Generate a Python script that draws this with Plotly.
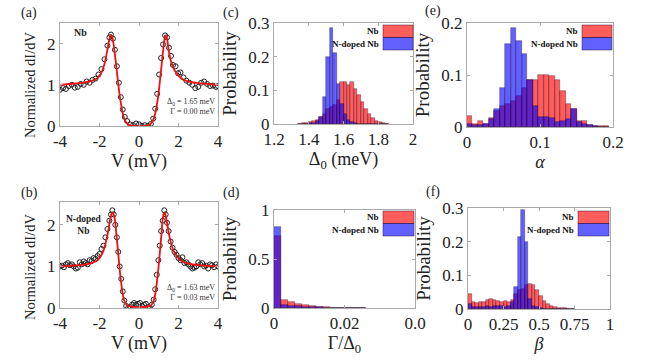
import plotly.graph_objects as go

W, H = 646, 361

# ---- (a) Nb tunnelling spectrum ----
v_nb = [-4.0, -3.85, -3.7, -3.55, -3.4, -3.25, -3.1, -2.95, -2.8, -2.65, -2.5, -2.35,
        -2.2, -2.05, -1.9, -1.75, -1.6, -1.5, -1.42, -1.32, -1.22, -1.12, -1.02, -0.92,
        -0.82, -0.72, -0.6, -0.45, -0.3, -0.15, 0.0, 0.15, 0.3, 0.45, 0.6, 0.72, 0.82,
        0.92, 1.02, 1.12, 1.22, 1.32, 1.42, 1.52, 1.62, 1.72, 1.85, 1.98, 2.1, 2.25,
        2.4, 2.55, 2.7, 2.85, 3.0, 3.15, 3.3, 3.45, 3.6, 3.75, 3.9, 4.0]
didv_nb = [0.88, 0.92, 0.90, 0.97, 1.00, 0.93, 0.95, 1.02, 1.00, 1.08, 1.05, 1.12,
           1.15, 1.25, 1.38, 1.62, 1.95, 2.15, 2.22, 2.12, 1.85, 1.45, 1.05, 0.70,
           0.40, 0.22, 0.12, 0.04, 0.02, 0.06, 0.04, 0.00, 0.02, 0.00, 0.05, 0.18, 0.42,
           0.78, 1.25, 1.65, 1.98, 2.20, 2.15, 1.90, 1.70, 1.48, 1.45, 1.28, 1.30, 1.18,
           1.10, 1.05, 1.00, 0.92, 0.95, 1.05, 1.08, 1.02, 0.97, 0.98, 0.95, 0.97]
vfit_nb = [-4.0, -3.5, -3.0, -2.6, -2.3, -2.1, -1.9, -1.75, -1.6, -1.5, -1.42, -1.35,
           -1.25, -1.15, -1.05, -0.95, -0.85, -0.75, -0.6, -0.45, -0.3, 0.0,
           0.3, 0.45, 0.6, 0.75, 0.85, 0.95, 1.05, 1.15, 1.25, 1.33, 1.4, 1.5, 1.6,
           1.75, 1.9, 2.1, 2.3, 2.6, 3.0, 3.5, 4.0]
fit_nb = [1.00, 1.02, 1.04, 1.07, 1.11, 1.17, 1.30, 1.50, 1.85, 2.10, 2.22, 2.15,
          1.85, 1.45, 1.02, 0.65, 0.37, 0.18, 0.06, 0.015, 0.0, 0.0,
          0.0, 0.015, 0.06, 0.18, 0.37, 0.65, 1.05, 1.50, 1.95, 2.20, 2.15, 1.85, 1.60,
          1.40, 1.28, 1.17, 1.11, 1.07, 1.04, 1.02, 1.00]

# ---- (b) N-doped Nb tunnelling spectrum ----
v_nd = [-4.0, -3.9, -3.8, -3.7, -3.6, -3.5, -3.4, -3.3, -3.2, -3.1, -3.0, -2.9, -2.8,
        -2.7, -2.6, -2.5, -2.4, -2.3, -2.2, -2.1, -2.0, -1.9, -1.8, -1.7, -1.6, -1.5,
        -1.42, -1.35, -1.28, -1.2, -1.12, -1.05, -0.98, -0.9, -0.82, -0.74, -0.65,
        -0.55, -0.45, -0.35, -0.25, -0.15, -0.05, 0.05, 0.15, 0.25, 0.35, 0.45, 0.55,
        0.65, 0.74, 0.82, 0.9, 0.98, 1.05, 1.12, 1.2, 1.28, 1.35, 1.42, 1.5, 1.6, 1.7,
        1.8, 1.9, 2.0, 2.1, 2.2, 2.3, 2.4, 2.5, 2.6, 2.7, 2.8, 2.9, 3.0, 3.1, 3.2, 3.3,
        3.4, 3.5, 3.6, 3.7, 3.8, 3.9, 4.0]
didv_nd = [1.00, 1.02, 0.98, 1.05, 1.08, 1.03, 1.05, 1.00, 0.95, 0.97, 1.10, 1.05, 1.12,
           1.08, 1.05, 1.15, 1.13, 1.20, 1.18, 1.25, 1.30, 1.42, 1.50, 1.70, 1.90, 2.10,
           2.25, 2.35, 2.25, 2.00, 1.70, 1.35, 1.00, 0.70, 0.40, 0.18, 0.05,
           0.00, 0.02, 0.08, 0.12, 0.08, 0.10, 0.12, 0.05, 0.08, 0.10, 0.02, 0.00,
           0.08, 0.20, 0.45, 0.80, 1.15, 1.50, 1.85, 2.10, 2.35, 2.25, 2.05, 1.85, 1.60, 1.45,
           1.35, 1.28, 1.20, 1.15, 1.22, 1.08, 1.10, 1.05, 1.00, 0.95, 0.97, 1.00, 1.10, 1.05,
           1.08, 1.00, 1.02, 0.95, 1.05, 1.03, 0.98, 1.05, 1.00]
vfit_nd = [-4.0, -3.0, -2.5, -2.2, -2.0, -1.8, -1.6, -1.45, -1.35, -1.25, -1.15, -1.05,
           -0.95, -0.85, -0.75, -0.6, -0.4, 0.0, 0.4, 0.6, 0.75, 0.85, 0.95, 1.05,
           1.15, 1.22, 1.3, 1.4, 1.55, 1.75, 2.0, 2.2, 2.5, 3.0, 4.0]
fit_nd = [1.00, 1.03, 1.07, 1.12, 1.20, 1.38, 1.75, 2.15, 2.30, 2.20, 1.80, 1.30,
          0.80, 0.42, 0.18, 0.06, 0.03, 0.03, 0.03, 0.06, 0.18, 0.42, 0.80, 1.30,
          1.85, 2.20, 2.30, 2.10, 1.70, 1.38, 1.20, 1.12, 1.07, 1.03, 1.00]

# ---- (c) gap histogram ----
gap_c = [1.35, 1.37, 1.39, 1.41, 1.43, 1.45, 1.47, 1.49, 1.51, 1.53, 1.55, 1.57, 1.59,
         1.61, 1.63, 1.65, 1.67, 1.69, 1.71, 1.73, 1.75, 1.77, 1.79, 1.81, 1.83, 1.85]
gap_nb = [0.001, 0.002, 0.003, 0.005, 0.008, 0.012, 0.02, 0.03, 0.045, 0.05, 0.055, 0.07,
          0.125, 0.125, 0.115, 0.125, 0.105, 0.085, 0.065, 0.045, 0.03, 0.018, 0.01,
          0.006, 0.003, 0.001]
gap_nd = [0.0, 0.0, 0.0, 0.002, 0.004, 0.008, 0.02, 0.08, 0.20, 0.285, 0.21, 0.12,
          0.06, 0.03, 0.012, 0.005, 0.002, 0.0, 0.0, 0.0, 0.0, 0.0, 0.0, 0.0, 0.0, 0.0]

# ---- (d) Gamma/Delta histogram ----
gam_c = [0.001, 0.003, 0.005, 0.007, 0.009, 0.011, 0.013, 0.015, 0.017, 0.019, 0.021,
         0.023, 0.025]
gam_nb = [0.73, 0.08, 0.065, 0.045, 0.03, 0.02, 0.012, 0.008, 0.005, 0.004, 0.003,
          0.002, 0.001]
gam_nd = [0.83, 0.03, 0.025, 0.02, 0.015, 0.01, 0.008, 0.005, 0.004, 0.003, 0.003,
          0.002, 0.002]

# ---- (e) alpha histogram ----
alp_c = [0.00375, 0.01125, 0.01875, 0.02625, 0.03375, 0.04125, 0.04875, 0.05625,
         0.06375, 0.07125, 0.07875, 0.08625, 0.09375, 0.10125, 0.10875, 0.11625,
         0.12375, 0.13125, 0.13875, 0.14625, 0.15375, 0.16125, 0.16875, 0.17625,
         0.18375, 0.19125]
alp_nb = [0.022, 0.005, 0.011, 0.006, 0.018, 0.03, 0.04, 0.045, 0.05, 0.06, 0.075,
          0.09, 0.09, 0.10, 0.10, 0.098, 0.09, 0.07, 0.045, 0.035, 0.012, 0.012, 0.004,
          0.002, 0.001, 0.001]
alp_nd = [0.005, 0.003, 0.004, 0.005, 0.015, 0.035, 0.075, 0.16, 0.19, 0.165, 0.14,
          0.09, 0.04, 0.02, 0.02, 0.018, 0.01, 0.012, 0.015, 0.035, 0.01, 0.005, 0.003,
          0.001, 0.0, 0.0]

# ---- (f) beta histogram ----
bet_c = [0.0125, 0.0375, 0.0625, 0.0875, 0.1125, 0.1375, 0.1625, 0.1875, 0.2125,
         0.2375, 0.2625, 0.2875, 0.3125, 0.3375, 0.3625, 0.3875, 0.4125, 0.4375,
         0.4625, 0.4875, 0.5125, 0.5375, 0.5625, 0.5875, 0.6125, 0.6375, 0.6625,
         0.6875, 0.7125, 0.7375]
bet_nb = [0.045, 0.02, 0.018, 0.02, 0.022, 0.028, 0.03, 0.028, 0.025, 0.022, 0.025,
          0.022, 0.028, 0.045, 0.055, 0.06, 0.07, 0.075, 0.07, 0.055, 0.04, 0.025,
          0.015, 0.01, 0.007, 0.004, 0.002, 0.002, 0.001, 0.001]
bet_nd = [0.015, 0.005, 0.005, 0.005, 0.006, 0.008, 0.005, 0.01, 0.008, 0.008, 0.005,
          0.01, 0.02, 0.065, 0.215, 0.295, 0.2, 0.03, 0.01, 0.005, 0.003, 0.0, 0.0,
          0.0, 0.0, 0.0, 0.0, 0.0, 0.0, 0.0]

RED = 'rgba(255,0,0,0.64)'
BLUE = 'rgba(0,0,255,0.62)'
EDGE = 'rgba(40,0,40,0.55)'
FONT = '"Liberation Serif", "Times New Roman", Times, serif'


def px(x):
    return x / W


def py(y):
    return 1 - y / H


fig = go.Figure()

# spectra
for v, g, vf, f, n in [(v_nb, didv_nb, vfit_nb, fit_nb, ''),
                       (v_nd, didv_nd, vfit_nd, fit_nd, '2')]:
    fig.add_trace(go.Scatter(x=v, y=g, mode='markers', xaxis='x' + n, yaxis='y' + n,
                             marker=dict(symbol='circle-open', size=5, color='#222',
                                         line=dict(width=1, color='#222'))))
    fig.add_trace(go.Scatter(x=vf, y=f, mode='lines', xaxis='x' + n, yaxis='y' + n,
                             line=dict(color='#ee1111', width=1.8, shape='spline')))

hists = [(gap_c, gap_nb, gap_nd, 0.02, '3'),
         (gam_c, gam_nb, gam_nd, 0.002, '4'),
         (alp_c, alp_nb, alp_nd, 0.0075, '5'),
         (bet_c, bet_nb, bet_nd, 0.025, '6')]
for c, a, b, w, n in hists:
    fig.add_trace(go.Bar(x=c, y=a, width=w, xaxis='x' + n, yaxis='y' + n,
                         marker=dict(color=RED, line=dict(color=EDGE, width=0.6))))
    fig.add_trace(go.Bar(x=c, y=b, width=w, xaxis='x' + n, yaxis='y' + n,
                         marker=dict(color=BLUE, line=dict(color=EDGE, width=0.6))))

ax = dict(showline=True, mirror='ticks', linecolor='#aaaaaa', linewidth=1,
          ticks='inside', ticklen=3, tickcolor='#aaaaaa', showgrid=False,
          zeroline=False, automargin=False,
          tickfont=dict(family=FONT, size=17, color='#222'))

# panel boxes in pixels: x0, x1, y0(top), y1(bottom)
boxes = {'': (60, 218, 23, 126), '2': (60, 218, 202, 308),
         '3': (274, 413, 23, 124), '4': (274, 415, 210, 308),
         '5': (467, 613, 23, 127), '6': (468, 610, 208, 309)}

xset = {
    '': dict(range=[-4, 4], tickvals=[-4, -2, 0, 2, 4], ticktext=['-4', '-2', '0', '2', '4'],
             title='V (mV)'),
    '2': dict(range=[-4, 4], tickvals=[-4, -2, 0, 2, 4], ticktext=['-4', '-2', '0', '2', '4'],
              title='V (mV)'),
    '3': dict(range=[1.2, 2], tickvals=[1.2, 1.4, 1.6, 1.8, 2], ticktext=['1.2', '1.4', '1.6', '1.8', '2'],
              title='Δ<sub>0</sub> (meV)'),
    '4': dict(range=[0, 0.04], tickvals=[0, 0.02, 0.04], ticktext=['0', '0.02', '0.0'],
              title='Γ/Δ<sub>0</sub>'),
    '5': dict(range=[0, 0.2], tickvals=[0, 0.1, 0.2], ticktext=['0', '0.1', '0.2'],
              title='<i>α</i>'),
    '6': dict(range=[0, 1], tickvals=[0, 0.25, 0.5, 0.75, 1], ticktext=['0', '0.25', '0.5', '0.75', '1'],
              title='<i>β</i>'),
}
yset = {
    '': dict(range=[0, 2.5], tickvals=[0, 1, 2], title=''),
    '2': dict(range=[0, 2.55], tickvals=[0, 1, 2], title=''),
    '3': dict(range=[0, 0.3], tickvals=[0, 0.1, 0.2, 0.3], title='Probability'),
    '4': dict(range=[0, 1], tickvals=[0, 0.5, 1], title='Probability'),
    '5': dict(range=[0, 0.2], tickvals=[0, 0.1, 0.2], title='Probability'),
    '6': dict(range=[0, 0.3], tickvals=[0, 0.1, 0.2, 0.3], title='Probability'),
}

lay = {}
for n, (x0, x1, y0, y1) in boxes.items():
    xs = xset[n]
    ys = yset[n]
    lay['xaxis' + n] = dict(ax, domain=[px(x0), px(x1)], anchor='y' + n, range=xs['range'],
                            tickmode='array', tickvals=xs['tickvals'], ticktext=xs['ticktext'],
                            title=dict(text=xs['title'], standoff=0,
                                       font=dict(family=FONT, size=18, color='#222')))
    lay['yaxis' + n] = dict(ax, domain=[py(y1), py(y0)], anchor='x' + n, range=ys['range'],
                            tickmode='array', tickvals=ys['tickvals'],
                            title=dict(text=ys['title'], standoff=6,
                                       font=dict(family=FONT, size=19, color='#222')))

fig.update_layout(**lay)


def note(text, x, y, size, xanchor='center', align='center', angle=0, color='#222'):
    return dict(text=text, x=px(x), y=py(y), xref='paper', yref='paper', showarrow=False,
                xanchor=xanchor, yanchor='middle', align=align, textangle=angle,
                font=dict(family=FONT, size=size, color=color))


ann = []
shapes = []
for t, x, y in [('(a)', 29, 13), ('(b)', 29, 193), ('(c)', 231, 13), ('(d)', 231, 193),
                ('(e)', 433, 11), ('(f)', 433, 192)]:
    ann.append(note(t, x, y, 14))
# y titles of the spectra sit a little below the axis centre
ann.append(note('Normalized dI/dV', 30, 85, 14.5, angle=-90))
ann.append(note('Normalized dI/dV', 30, 267, 14.5, angle=-90))
ann.append(note('<b>Nb</b>', 80, 32, 10))
ann.append(note('<b>N-doped<br>Nb</b>', 84, 225, 9.5))
ann.append(note('Δ<sub>0</sub> = 1.65 meV<br>Γ = 0.00 meV', 217, 106, 8,
                xanchor='right', align='right', color='#333'))
ann.append(note('Δ<sub>0</sub> = 1.63 meV<br>Γ = 0.03 meV', 217, 292, 8,
                xanchor='right', align='right', color='#333'))

# legend boxes (swatch at right, label at left)
for sx0, sx1, sy0 in [(383, 413, 25), (383, 414, 211), (582, 612, 25), (578, 609, 211)]:
    for k, (col, lab) in enumerate([(RED, 'Nb'), (BLUE, 'N-doped Nb')]):
        ya, yb = sy0 + 12.5 * k, sy0 + 12.5 * (k + 1)
        shapes.append(dict(type='rect', xref='paper', yref='paper', x0=px(sx0), x1=px(sx1),
                           y0=py(yb), y1=py(ya), fillcolor=col,
                           line=dict(color=EDGE, width=0.8)))
        ann.append(note('<b>' + lab + '</b>', sx0 - 2, (ya + yb) / 2, 9,
                        xanchor='right', color='#111'))

fig.update_layout(annotations=ann, shapes=shapes, barmode='overlay', bargap=0,
                  showlegend=False, width=W, height=H,
                  margin=dict(l=0, r=0, t=0, b=0, autoexpand=False),
                  paper_bgcolor='white', plot_bgcolor='white')

# the page body has a default 8px margin; remove it so the figure fills the window
fig.write_html('out.html', config={'displayModeBar': False},
               post_script="document.body.style.margin='0px';")
